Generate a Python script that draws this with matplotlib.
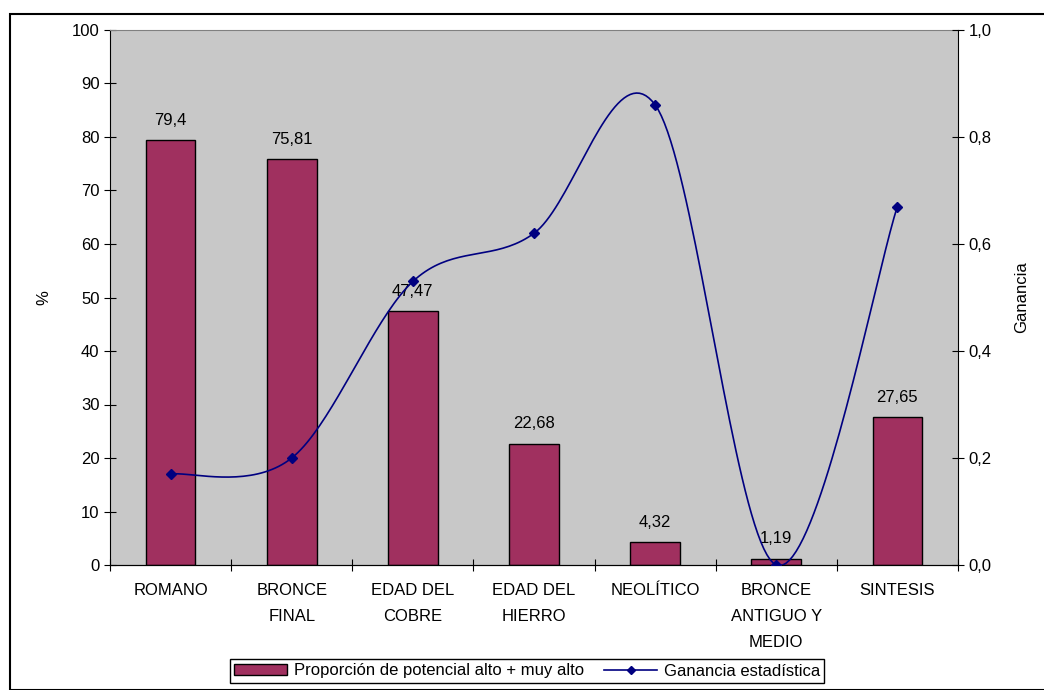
import matplotlib
matplotlib.use('Agg')
import matplotlib.pyplot as plt
from matplotlib.patches import Rectangle
from matplotlib.ticker import FuncFormatter
import numpy as np

plt.rcParams['font.family'] = ['Liberation Sans', 'DejaVu Sans']
plt.rcParams['font.size'] = 12

categorias = ['ROMANO', 'BRONCE\nFINAL', 'EDAD DEL\nCOBRE', 'EDAD DEL\nHIERRO',
              'NEOLÍTICO', 'BRONCE\nANTIGUO Y\nMEDIO', 'SINTESIS']
proporcion = [79.4, 75.81, 47.47, 22.68, 4.32, 1.19, 27.65]
etiquetas = ['79,4', '75,81', '47,47', '22,68', '4,32', '1,19', '27,65']
ganancia = [0.17, 0.20, 0.53, 0.62, 0.86, 0.0, 0.67]


def suavizar(xs, ys, n=40):
    # curva suavizada tipo Excel (Bezier con puntos de control Catmull-Rom)
    xs = np.asarray(xs, float)
    ys = np.asarray(ys, float)
    px, py = [], []
    for i in range(len(xs) - 1):
        i0 = max(i - 1, 0)
        i3 = min(i + 2, len(xs) - 1)
        c1x = xs[i] + (xs[i + 1] - xs[i0]) / 6
        c1y = ys[i] + (ys[i + 1] - ys[i0]) / 6
        c2x = xs[i + 1] - (xs[i3] - xs[i]) / 6
        c2y = ys[i + 1] - (ys[i3] - ys[i]) / 6
        t = np.linspace(0, 1, n)
        a, b, c, d = (1 - t) ** 3, 3 * (1 - t) ** 2 * t, 3 * (1 - t) * t ** 2, t ** 3
        px.extend(a * xs[i] + b * c1x + c * c2x + d * xs[i + 1])
        py.extend(a * ys[i] + b * c1y + c * c2y + d * ys[i + 1])
    return np.array(px), np.array(py)


fig = plt.figure(figsize=(10.44, 6.9), dpi=100)
fig.patches.append(Rectangle((10 / 1044, 0), 1.2, 1 - 14 / 690, transform=fig.transFigure,
                             fill=False, edgecolor='black', linewidth=1.5, zorder=0))

ax = fig.add_axes([110 / 1044, 1 - 565 / 690, 848 / 1044, 535 / 690])
ax.set_facecolor('#c8c8c8')
x = np.arange(len(categorias))
bars = ax.bar(x, proporcion, width=0.41, color='#a0305f', edgecolor='black', linewidth=1,
              label='Proporción de potencial alto + muy alto', zorder=2)
for xi, v, t in zip(x, proporcion, etiquetas):
    ax.text(xi, v + 2.3, t, ha='center', va='bottom', zorder=4)

ax.set_xlim(-0.5, len(categorias) - 0.5)
ax.set_ylim(0, 100)
ax.set_yticks(range(0, 101, 10))
ax.set_xticks(np.arange(-0.5, len(categorias), 1), minor=False)
ax.set_xticklabels([])
ax.set_xticks(x, minor=True)
ax.set_xticklabels(categorias, minor=True, linespacing=1.9, va='top')
ax.tick_params(axis='x', which='minor', length=0, pad=13)
ax.tick_params(axis='x', which='major', direction='inout', length=8)
ax.tick_params(axis='y', direction='inout', length=8)
ax.set_ylabel('%', labelpad=15)
ax.spines['top'].set_color('#808080')
ax.spines['right'].set_visible(False)

ax2 = ax.twinx()
ax2.set_ylim(0, 1)
ax2.set_yticks(np.arange(0, 1.01, 0.2))
ax2.yaxis.set_major_formatter(FuncFormatter(lambda v, p: f'{v:.1f}'.replace('.', ',')))
ax2.tick_params(axis='y', direction='inout', length=8)
ax2.set_ylabel('Ganancia', labelpad=16)
ax2.spines['top'].set_visible(False)
ax2.spines['left'].set_visible(False)
sx, sy = suavizar(x, ganancia)
ax2.plot(sx, sy, color='#000080', linewidth=1.2, zorder=3)
ax2.plot(x, ganancia, linestyle='none', marker='D', markersize=5, color='#000080', zorder=3)
linea, = ax2.plot([], [], color='#000080', linewidth=1.2, marker='D', markersize=4,
                  label='Ganancia estadística')

fig.legend([bars, linea], [bars.get_label(), linea.get_label()], loc='center',
           bbox_to_anchor=(527 / 1044, 1 - 671 / 690), ncol=2, frameon=True, fancybox=False,
           edgecolor='black', framealpha=1, borderpad=0.25, handlelength=3.2,
           handleheight=0.6, columnspacing=1.2, handletextpad=0.4)

fig.savefig('out.png', dpi=100)
